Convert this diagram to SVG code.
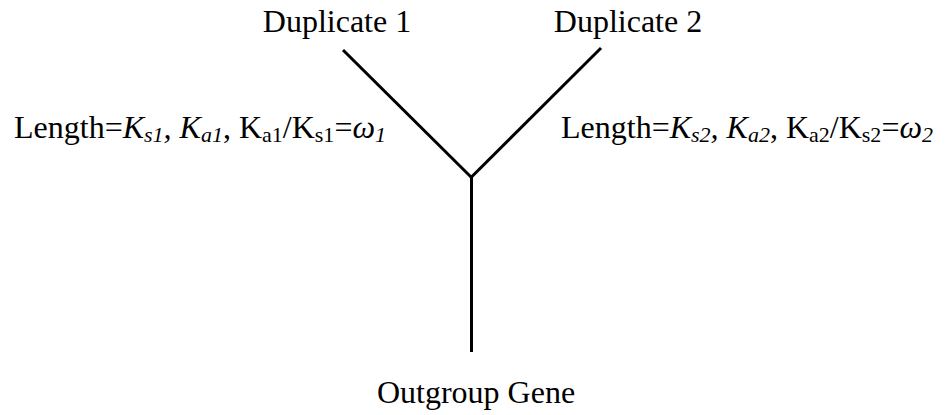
<svg xmlns="http://www.w3.org/2000/svg" width="947" height="415" viewBox="0 0 947 415">
<style>
text{font-family:"Liberation Serif","Times New Roman",serif;font-size:32px;fill:#000}
.i{font-style:italic}
.sub{font-size:22px}
.edge{stroke:#000;stroke-width:3;fill:none;stroke-linecap:butt}
</style>
<rect width="947" height="415" fill="#fff"/>
<g id="connectors">
<line class="edge" x1="343" y1="50" x2="472" y2="178"/>
<line class="edge" x1="601" y1="48" x2="470.5" y2="178"/>
<line class="edge" x1="471.5" y1="176" x2="471.5" y2="352"/>
</g>
<g id="dup1"><text x="337" y="32" text-anchor="middle">Duplicate 1</text></g>
<g id="dup2"><text x="628" y="32" text-anchor="middle">Duplicate 2</text></g>
<g id="outgroup"><text x="476" y="403" text-anchor="middle">Outgroup Gene</text></g>
<g id="label1"><text x="14" y="138">Length=<tspan class="i">K</tspan><tspan class="i sub" dy="4">s1</tspan><tspan class="i" dy="-4">, K</tspan><tspan class="i sub" dy="4">a1</tspan><tspan dy="-4">, K</tspan><tspan class="sub" dy="4">a1</tspan><tspan dy="-4">/K</tspan><tspan class="sub" dy="4">s1</tspan><tspan dy="-4">=</tspan><tspan class="i">ω</tspan><tspan class="i sub" dy="4">1</tspan></text></g>
<g id="label2"><text x="561" y="138">Length=<tspan class="i">K</tspan><tspan class="i sub" dy="4">s2</tspan><tspan class="i" dy="-4">, K</tspan><tspan class="i sub" dy="4">a2</tspan><tspan dy="-4">, K</tspan><tspan class="sub" dy="4">a2</tspan><tspan dy="-4">/K</tspan><tspan class="sub" dy="4">s2</tspan><tspan dy="-4">=</tspan><tspan class="i">ω</tspan><tspan class="i sub" dy="4">2</tspan></text></g>
</svg>
